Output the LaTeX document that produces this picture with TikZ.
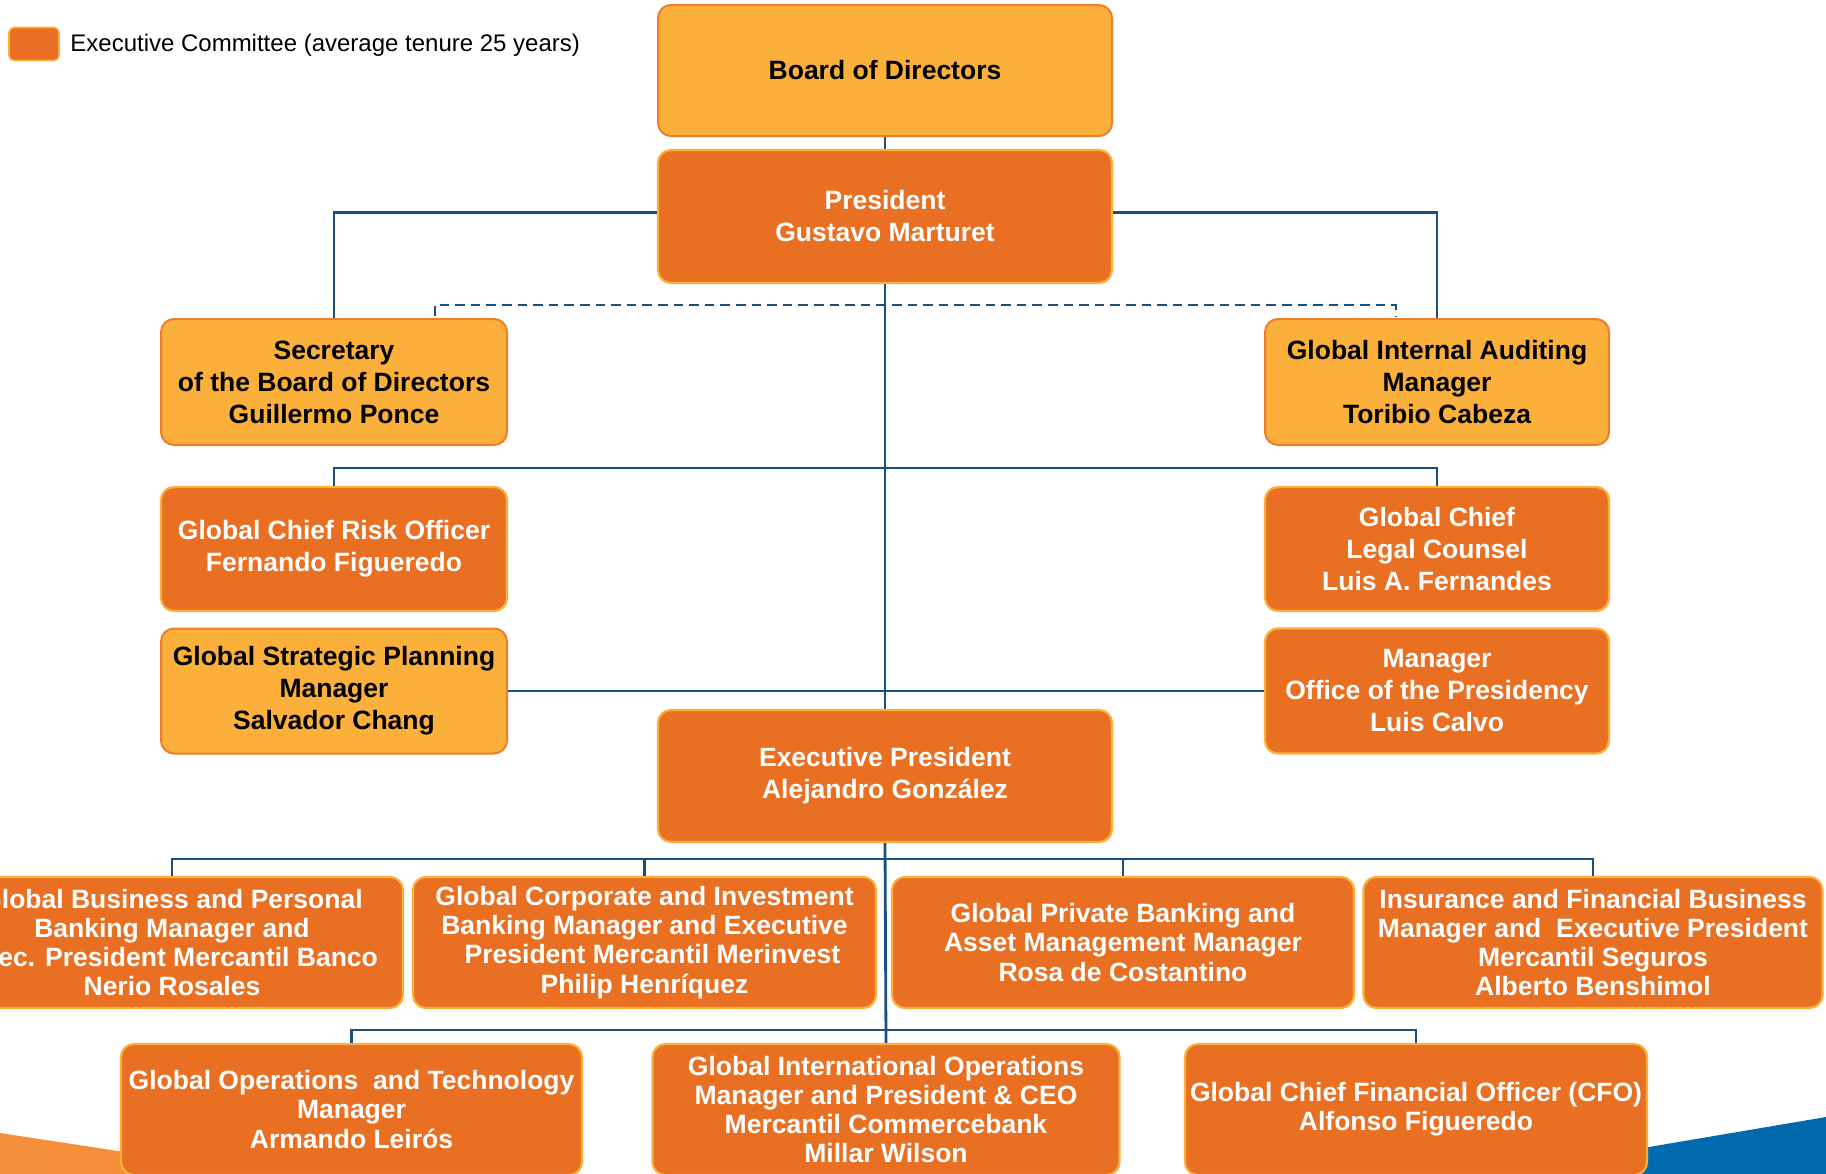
\documentclass[tikz,border=0pt]{standalone}
\usepackage{fontspec}
\setmainfont{Liberation Sans}
\definecolor{dko}{HTML}{E96F22}
\definecolor{lto}{HTML}{FBB03B}
\definecolor{ltob}{HTML}{EE7D2C}
\definecolor{lnc}{HTML}{1A4F7E}
\definecolor{swo1}{HTML}{F6903C}
\definecolor{swo2}{HTML}{F37C25}
\definecolor{swb1}{HTML}{0A79BD}
\definecolor{swb2}{HTML}{0067AC}
\begin{document}
\begin{tikzpicture}[x=0.5pt,y=-0.5pt,
  sz/.style 2 args={minimum width={0.5pt*#1}, minimum height={0.5pt*#2}},
  box/.style={rounded corners=6.5pt, inner sep=0pt, align=center,
    font=\fontsize{13.25}{16}\selectfont\bfseries},
  dkbox/.style={box, fill=dko, draw=lto, line width=1.1pt, text=white},
  ltbox/.style={box, fill=lto, draw=ltob, line width=1pt, text=black},
  tight/.style={font=\fontsize{13.25}{14.6}\selectfont\bfseries},
  conn/.style={draw=lnc, line width=1.4pt},
  dconn/.style={draw=lnc, line width=1.4pt, dash pattern=on 4.8pt off 3pt}]
\useasboundingbox (0,0) rectangle (1826,1173);
\clip (0,0) rectangle (1826,1173);

% bottom swooshes
\shade[left color=swo1, right color=swo2] (0,1133) -- (700,1240) -- (0,1240) -- cycle;
\shade[left color=swb1, right color=swb2] (1100,1240) -- (1826,1117) -- (1826,1240) -- cycle;

% legend
\node[sz={50}{33}, fill=dko, draw=lto, line width=0.8pt, rounded corners=2.5pt, inner sep=0pt] (leg) at (34,44) {};
\node[anchor=west, inner sep=0pt, font=\fontsize{12}{14}\selectfont] (legt) at (70,45) {Executive Committee (average tenure 25 years)};

% boxes
\node[ltbox, sz={454}{131}] (board) at (885,70.5) {Board of Directors};
\node[dkbox, sz={454}{133}] (pres) at (885,216.5) {President\\Gustavo Marturet};
\node[ltbox, sz={346}{126}] (sec) at (334,382) {Secretary\\of the Board of Directors\\Guillermo Ponce};
\node[ltbox, sz={344}{126}] (aud) at (1437,382) {Global Internal Auditing\\Manager\\Toribio Cabeza};
\node[dkbox, sz={346}{124}] (risk) at (334,549) {Global Chief Risk Officer\\Fernando Figueredo};
\node[dkbox, sz={344}{124}] (legal) at (1437,549) {Global Chief\\Legal Counsel\\Luis A. Fernandes};
\node[ltbox, sz={346}{125}] (strat) at (334,691) {Global Strategic Planning\\Manager\\Salvador Chang};
\node[dkbox, sz={344}{125}] (office) at (1437,691) {Manager\\Office of the Presidency\\Luis Calvo};
\node[dkbox, sz={454}{132}] (exec) at (885,776) {Executive President\\Alejandro González};

\node[dkbox, tight, sz={462}{131}] (r4a) at (172,942.5) {Global Business and Personal\\Banking Manager and\\Exec. President Mercantil Banco\\Nerio Rosales};
\node[dkbox, tight, sz={463}{131}] (r4b) at (644.5,942.5) {Global Corporate and Investment\\Banking Manager and Executive\\\hspace{8pt}President Mercantil Merinvest\\Philip Henríquez};
\node[dkbox, tight, sz={462}{131}] (r4c) at (1123,942.5) {Global Private Banking and\\Asset Management Manager\\Rosa de Costantino};
\node[dkbox, tight, sz={459}{131}] (r4d) at (1593,942.5) {Insurance and Financial Business\\Manager and\ \ Executive President\\Mercantil Seguros\\Alberto Benshimol};

\node[dkbox, tight, sz={461}{131}] (r5a) at (351.5,1109.5) {Global Operations\ \ and Technology\\Manager\\Armando Leirós};
\node[dkbox, tight, sz={467}{131}] (r5b) at (886,1109.5) {Global International Operations\\Manager and President \& CEO\\Mercantil Commercebank\\Millar Wilson};
\node[dkbox, tight, sz={462}{131}] (r5c) at (1416,1109.5) {Global Chief Financial Officer (CFO)\\Alfonso Figueredo};

% junction coordinates
\coordinate (j2) at (884,468);
\coordinate (j4) at (884,859);
\coordinate (j5) at (884,1030);
\coordinate (dA) at (435,316);
\coordinate (dB) at (1396,316);
\coordinate (dy) at (884,305);

% connectors
\draw[conn] (board.south) -- (pres.north);
\draw[conn] ([yshift=2pt]pres.west) -| (sec.north);
\draw[conn] ([yshift=2pt]pres.east) -| (aud.north);
\draw[dconn] (dA) |- (dy) -| (dB);
\draw[conn] (pres.south) -- (exec.north);
\draw[conn] (risk.north) |- (j2) -| (legal.north);
\draw[conn] (strat.east) -- (office.west);
\draw[conn] (exec.south) -- (r5b.north);
\draw[conn] (r4a.north) |- (j4) -| (r4d.north);
\draw[conn] (r4b.north) -- (r4b.north |- j4);
\draw[conn] (r4c.north) -- (r4c.north |- j4);
\draw[conn] (r5a.north) |- (j5) -| (r5c.north);
\end{tikzpicture}
\end{document}
